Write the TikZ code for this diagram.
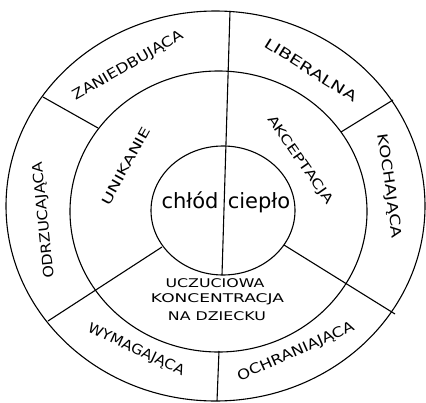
\documentclass[tikz,border=0pt]{standalone}
\usepackage{fontspec}
\usepackage{graphicx}
\setmainfont{DejaVu Sans}
\newcommand{\labtext}[3]{\fontsize{#1}{#1}\selectfont\scalebox{#2}[1]{#3}}
\begin{document}
\begin{tikzpicture}[x=1pt,y=-1pt,line width=1.1pt,
  lab/.style={inner sep=0pt,anchor=center},
  ring/.style={draw=black,line width=1.1pt},
  divider/.style={draw=black,line width=1.1pt}]
\useasboundingbox (0,0) rectangle (426,402);
\fill[white] (0,0) rectangle (426,402);
% circles
\coordinate (co) at (215.5,206);
\coordinate (cm) at (218.5,211.5);
\coordinate (ci) at (223,210.5);
\draw[ring] (co) ellipse [x radius=209.5pt, y radius=195pt];
\draw[ring] (cm) ellipse [x radius=148.5pt, y radius=140.5pt];
\draw[ring] (ci) ellipse [x radius=72pt, y radius=64.5pt];
% dividers
\coordinate (vt) at (230,11);   \coordinate (vb) at (222,275);
\coordinate (wt) at (219,351);  \coordinate (wb) at (217,401);
\coordinate (ul1) at (43,97);   \coordinate (ul2) at (98,128);
\coordinate (ur1) at (341,132); \coordinate (ur2) at (393,100);
\coordinate (ll1) at (162,247); \coordinate (ll2) at (48,321);
\coordinate (lr1) at (284,245); \coordinate (lr2) at (395,314);
\draw[divider] (vt) -- (vb);
\draw[divider] (wt) -- (wb);
\draw[divider] (ul1) -- (ul2);
\draw[divider] (ur1) -- (ur2);
\draw[divider] (ll1) -- (ll2);
\draw[divider] (lr1) -- (lr2);
% outer ring labels
\node[lab,rotate=30] (zan) at (128,66) {\labtext{14}{1.18}{ZANIEDBUJĄCA}};
\node[lab,rotate=-32] (lib) at (311,70) {\labtext{14}{1.38}{LIBERALNA}};
\node[lab,rotate=-82] (koch) at (389,186) {\labtext{14}{1.28}{KOCHAJĄCA}};
\node[lab,rotate=24] (ochr) at (296,352) {\labtext{14}{1.18}{OCHRANIAJĄCA}};
\node[lab,rotate=-25] (wym) at (136,350) {\labtext{14}{1.08}{WYMAGAJĄCA}};
\node[lab,rotate=96] (odrz) at (44,220) {\labtext{14}{1.13}{ODRZUCAJĄCA}};
% middle ring labels
\node[lab,rotate=61] (unik) at (126,166) {\labtext{13}{1.4}{UNIKANIE}};
\node[lab,rotate=-55] (akc) at (300,160) {\labtext{13}{1.32}{AKCEPTACJA}};
\node[lab] (ucz1) at (215,283) {\labtext{12}{1.32}{UCZUCIOWA}};
\node[lab] (ucz2) at (217.5,299.5) {\labtext{12}{1.42}{KONCENTRACJA}};
\node[lab] (ucz3) at (217,316) {\labtext{12}{1.32}{NA DZIECKU}};
% centre
\node[inner sep=0pt,anchor=base,font=\fontsize{21}{21}\selectfont] (chl) at (190,208) {chłód};
\node[inner sep=0pt,anchor=base,font=\fontsize{21}{21}\selectfont] (cie) at (259,208) {ciepło};
\end{tikzpicture}
\end{document}
